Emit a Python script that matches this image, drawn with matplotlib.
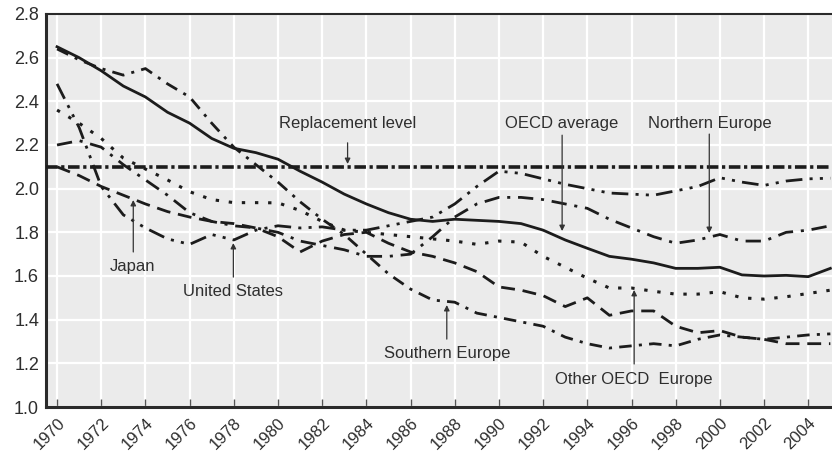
import matplotlib
matplotlib.use("Agg")
import matplotlib.pyplot as plt
from matplotlib.ticker import FixedLocator, FormatStrFormatter

years = list(range(1970, 2006))

oecd_average = [
    2.65, 2.60, 2.54, 2.47, 2.42, 2.35, 2.30, 2.23, 2.185, 2.165,
    2.135, 2.08, 2.03, 1.975, 1.93, 1.89, 1.86, 1.85, 1.86, 1.855,
    1.85, 1.84, 1.81, 1.765, 1.727, 1.69, 1.677, 1.66, 1.635, 1.635,
    1.64, 1.605, 1.60, 1.603, 1.597, 1.635,
]
united_states = [
    2.48, 2.28, 2.01, 1.88, 1.82, 1.77, 1.745, 1.79, 1.765, 1.81,
    1.83, 1.82, 1.825, 1.81, 1.81, 1.83, 1.85, 1.87, 1.93, 2.01,
    2.08, 2.07, 2.045, 2.02, 2.00, 1.98, 1.975, 1.97, 1.99, 2.01,
    2.05, 2.03, 2.015, 2.035, 2.045, 2.048,
]
southern_europe = [
    2.64, 2.59, 2.55, 2.52, 2.55, 2.48, 2.42, 2.30, 2.19, 2.11,
    2.03, 1.94, 1.86, 1.79, 1.70, 1.61, 1.54, 1.49, 1.48, 1.43,
    1.41, 1.39, 1.37, 1.32, 1.29, 1.27, 1.28, 1.29, 1.28, 1.31,
    1.33, 1.32, 1.31, 1.32, 1.33, 1.335,
]
japan = [
    2.10, 2.06, 2.01, 1.97, 1.93, 1.895, 1.87, 1.85, 1.84, 1.82,
    1.78, 1.71, 1.76, 1.79, 1.80, 1.75, 1.71, 1.69, 1.66, 1.62,
    1.55, 1.535, 1.51, 1.46, 1.50, 1.42, 1.44, 1.44, 1.37, 1.34,
    1.35, 1.32, 1.31, 1.29, 1.29, 1.29,
]
northern_europe = [
    2.20, 2.22, 2.19, 2.11, 2.04, 1.97, 1.89, 1.85, 1.83, 1.82,
    1.80, 1.76, 1.74, 1.72, 1.69, 1.69, 1.70, 1.78, 1.87, 1.93,
    1.96, 1.96, 1.95, 1.93, 1.91, 1.86, 1.82, 1.78, 1.75, 1.765,
    1.79, 1.76, 1.76, 1.80, 1.81, 1.83,
]
other_oecd_europe = [
    2.36, 2.30, 2.23, 2.14, 2.09, 2.04, 1.986, 1.95, 1.936, 1.936,
    1.935, 1.90, 1.85, 1.81, 1.80, 1.79, 1.78, 1.77, 1.76, 1.745,
    1.76, 1.755, 1.69, 1.64, 1.59, 1.545, 1.545, 1.53, 1.517, 1.517,
    1.528, 1.50, 1.494, 1.505, 1.52, 1.535,
]
replacement_level = 2.1

x_ticks = list(range(1970, 2006, 2))
y_ticks = [1.0, 1.2, 1.4, 1.6, 1.8, 2.0, 2.2, 2.4, 2.6, 2.8]

# label text, text position (x, y), arrow start, arrow tip
labels = [
    ("Replacement level", (1983.17, 2.30), (1983.15, 2.21), (1983.15, 2.113)),
    ("OECD average", (1992.86, 2.30), (1992.86, 2.245), (1992.86, 1.806)),
    ("Northern Europe", (1999.55, 2.30), (1999.52, 2.25), (1999.52, 1.797)),
    ("Japan", (1973.42, 1.642), (1973.45, 1.71), (1973.45, 1.948)),
    ("United States", (1977.98, 1.531), (1977.98, 1.595), (1977.98, 1.751)),
    ("Southern Europe", (1987.64, 1.247), (1987.64, 1.311), (1987.64, 1.467)),
    ("Other OECD  Europe", (1996.12, 1.128), (1996.12, 1.197), (1996.12, 1.536)),
]

INK = "#1c1c1c"
TEXT = "#2e2e2e"


def plot_fertility():
    plt.rcParams["font.family"] = ["Liberation Sans", "DejaVu Sans"]
    fig = plt.figure(figsize=(8.32, 4.54), dpi=100)
    ax = fig.add_axes([46 / 832, 1 - 407 / 454, 1 - 46 / 832 + 0.002, (407 - 14) / 454])
    ax.set_facecolor("#ebebeb")

    ax.axhline(replacement_level, color=INK, lw=2.6,
               linestyle=(0, (3.2, 1.0, 0.9, 1.0)), zorder=3)
    ax.plot(years, oecd_average, color=INK, lw=2.0, zorder=4)
    ax.plot(years, united_states, color=INK, lw=2.0,
            linestyle=(0, (6.0, 2.6, 1.1, 2.6, 1.1, 2.6)), zorder=3)
    ax.plot(years, southern_europe, color=INK, lw=2.0,
            linestyle=(0, (4.5, 2.6, 1.1, 2.6)), zorder=3)
    ax.plot(years, japan, color=INK, lw=2.0,
            linestyle=(0, (5.0, 2.8)), zorder=3)
    ax.plot(years, northern_europe, color=INK, lw=2.0,
            linestyle=(0, (5.5, 2.8, 1.1, 2.8)), zorder=3)
    ax.plot(years, other_oecd_europe, color=INK, lw=2.2,
            linestyle=(0, (1.1, 3.2)), zorder=3)

    for text, text_xy, start, tip in labels:
        ax.text(text_xy[0], text_xy[1], text, ha="center", va="center",
                fontsize=12, color=TEXT, zorder=5)
        ax.annotate("", xy=tip, xytext=start,
                    arrowprops=dict(arrowstyle="-|>", color="#333333", lw=0.9,
                                    mutation_scale=8, shrinkA=0, shrinkB=0),
                    zorder=5)

    ax.set_xlim(1969.5, 2005.15)
    ax.set_ylim(1.0, 2.8)
    ax.xaxis.set_major_locator(FixedLocator(x_ticks))
    ax.yaxis.set_major_locator(FixedLocator(y_ticks))
    ax.yaxis.set_major_formatter(FormatStrFormatter("%.1f"))
    ax.grid(True, color="white", lw=1.6, zorder=1)
    ax.set_axisbelow(True)

    ax.tick_params(axis="x", direction="in", length=6, width=1.0, color="#555555",
                   labelsize=12, labelcolor=TEXT, pad=6)
    ax.tick_params(axis="y", length=0, labelsize=13, labelcolor=TEXT, pad=5)
    for lab in ax.get_xticklabels():
        lab.set_rotation(45)
        lab.set_ha("right")
        lab.set_va("top")
        lab.set_rotation_mode("anchor")

    for side in ("left", "bottom"):
        ax.spines[side].set_linewidth(2.2)
        ax.spines[side].set_color("#2a2a2a")
    ax.spines["top"].set_linewidth(1.5)
    ax.spines["top"].set_color("#2a2a2a")
    ax.spines["right"].set_visible(False)

    fig.savefig("out.png", dpi=100)
    return fig


def main() -> None:
    plot_fertility()


if __name__ == "__main__":
    main()
